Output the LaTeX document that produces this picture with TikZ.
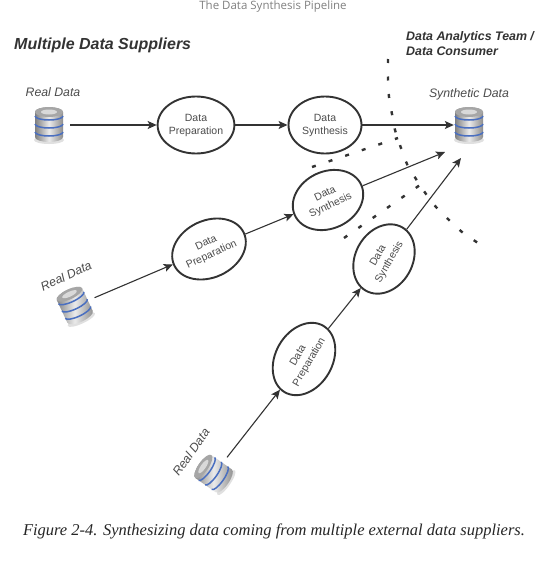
\documentclass[tikz,border=0pt]{standalone}
\usepackage{xcolor}
\usepackage{fontspec}
\setmainfont{Liberation Sans}
\newfontfamily\headfont{Open Sans}
\newfontfamily\capfont{Liberation Serif}
\usetikzlibrary{shapes.geometric}
\usetikzlibrary{calc}
\usetikzlibrary{arrows.meta}
\definecolor{inkdark}{HTML}{333333}
\definecolor{bandblue}{HTML}{4A6FC0}
\tikzset{
  stepnode/.style={draw=inkdark,
    ellipse,
    line width=1.9pt,
    fill=white,
    minimum width=73pt,
    minimum height=57pt,
    inner sep=0pt,
    align=center,
    text=black!70,
    font=\fontsize{10.5}{13}\selectfont},
  dbnode/.style={circle,
    minimum size=42pt,
    inner sep=0pt},
  dblabel/.style={text=black!70,
    font=\fontsize{12.3}{14}\itshape\selectfont},
  flowline/.style={draw=inkdark,
    line width=1.1pt,
    -{Stealth[length=9pt,width=8pt,inset=2pt]}},
  splitline/.style={draw=inkdark,
    line width=2.4pt,
    dash pattern=on 4pt off 13.5pt},
  dbicon/.pic={
    \fill[black!12] (0,15) ellipse[x radius=15, y radius=4];
    \shade[left color=black!50, right color=black!45, middle color=black!8]
      (-14,-13) -- (-14,12) arc[start angle=180, end angle=0, x radius=14, y radius=5]
      -- (14,-13) arc[start angle=0, end angle=-180, x radius=14, y radius=5] -- cycle;
    \fill[black!35] (0,-13) ellipse[x radius=14, y radius=5];
    \fill[black!15] (0,-13) ellipse[x radius=8, y radius=2.5];
    \foreach \y in {-9,-1,7}
      \draw[bandblue, line width=1.5pt]
        (-14,\y) arc[start angle=180, end angle=0, x radius=14, y radius=4];
  }
}
\begin{document}
\begin{tikzpicture}[x=1pt,y=-1pt]
  \useasboundingbox (0,0) rectangle (546,562);
  \fill[white] (0,0) rectangle (546,562);

  % titles
  \node[text=black!50, font=\headfont\fontsize{11.5}{13}\selectfont] (pagetitle) at (273,7) {The Data Synthesis Pipeline};
  \node[anchor=west, text=inkdark, font=\fontsize{16}{18}\bfseries\itshape\selectfont] (suppliers) at (10.7,45) {Multiple Data Suppliers};
  \node[anchor=west, align=left, text=inkdark, font=\fontsize{12.4}{15}\bfseries\itshape\selectfont] (consumer) at (402.7,44) {Data Analytics Team /\\Data Consumer};
  \node[font=\capfont\fontsize{16.5}{19}\itshape\selectfont, text=black!85] (caption) at (274,531.5) {Figure 2-4. Synthesizing data coming from multiple external data suppliers.};

  % dashed borders
  \draw[splitline] plot[smooth] coordinates {(388,59) (388,79) (389,97) (392,114) (395,130) (401,148) (407,164) (416,179) (426,194) (436,207) (449,220) (462,232) (478,243)};
  \draw[splitline] (312,167) -- (398,138);
  \draw[splitline] (344,238) -- (420,185);

  % data stores
  \node[dbnode] (realA) at (49,125) {};
  \node[dbnode] (realB) at (75,306) {};
  \node[dbnode] (realC) at (214,474) {};
  \node[dbnode, minimum size=30pt] (synthdata) at (469,125) {};
  \pic at (realA) {dbicon};
  \pic[rotate=25] at (realB) {dbicon};
  \pic[rotate=55] at (realC) {dbicon};
  \pic at (synthdata) {dbicon};
  \node[dblabel] (realAlabel) at (53,92) {Real Data};
  \node[dblabel, rotate=25] (realBlabel) at (66,276) {Real Data};
  \node[dblabel, rotate=55] (realClabel) at (191,452) {Real Data};
  \node[dblabel] (synthlabel) at (469,94) {Synthetic Data};

  % steps
  \node[stepnode] (prepA) at (196,125) {Data\\Preparation};
  \node[stepnode] (synthA) at (325,125) {Data\\Synthesis};
  \node[stepnode, rotate=25] (prepB) at (209,249) {Data\\Preparation};
  \node[stepnode, rotate=25] (synthB) at (328,200) {Data\\Synthesis};
  \node[stepnode, rotate=60] (prepC) at (304,359) {Data\\Preparation};
  \node[stepnode, rotate=60] (synthC) at (384,259) {Data\\Synthesis};

  \coordinate (endB) at (445,152);
  \coordinate (endC) at (461,158);

  % flows
  \draw[flowline] (realA) -- (prepA);
  \draw[flowline] (prepA) -- (synthA);
  \draw[flowline] (synthA) -- (synthdata);
  \draw[flowline] (realB) -- (prepB);
  \draw[flowline] (prepB) -- (synthB);
  \draw[flowline] (synthB) -- (endB);
  \draw[flowline] (realC) -- (prepC);
  \draw[flowline] (prepC) -- (synthC);
  \draw[flowline] (synthC) -- (endC);
\end{tikzpicture}
\end{document}
